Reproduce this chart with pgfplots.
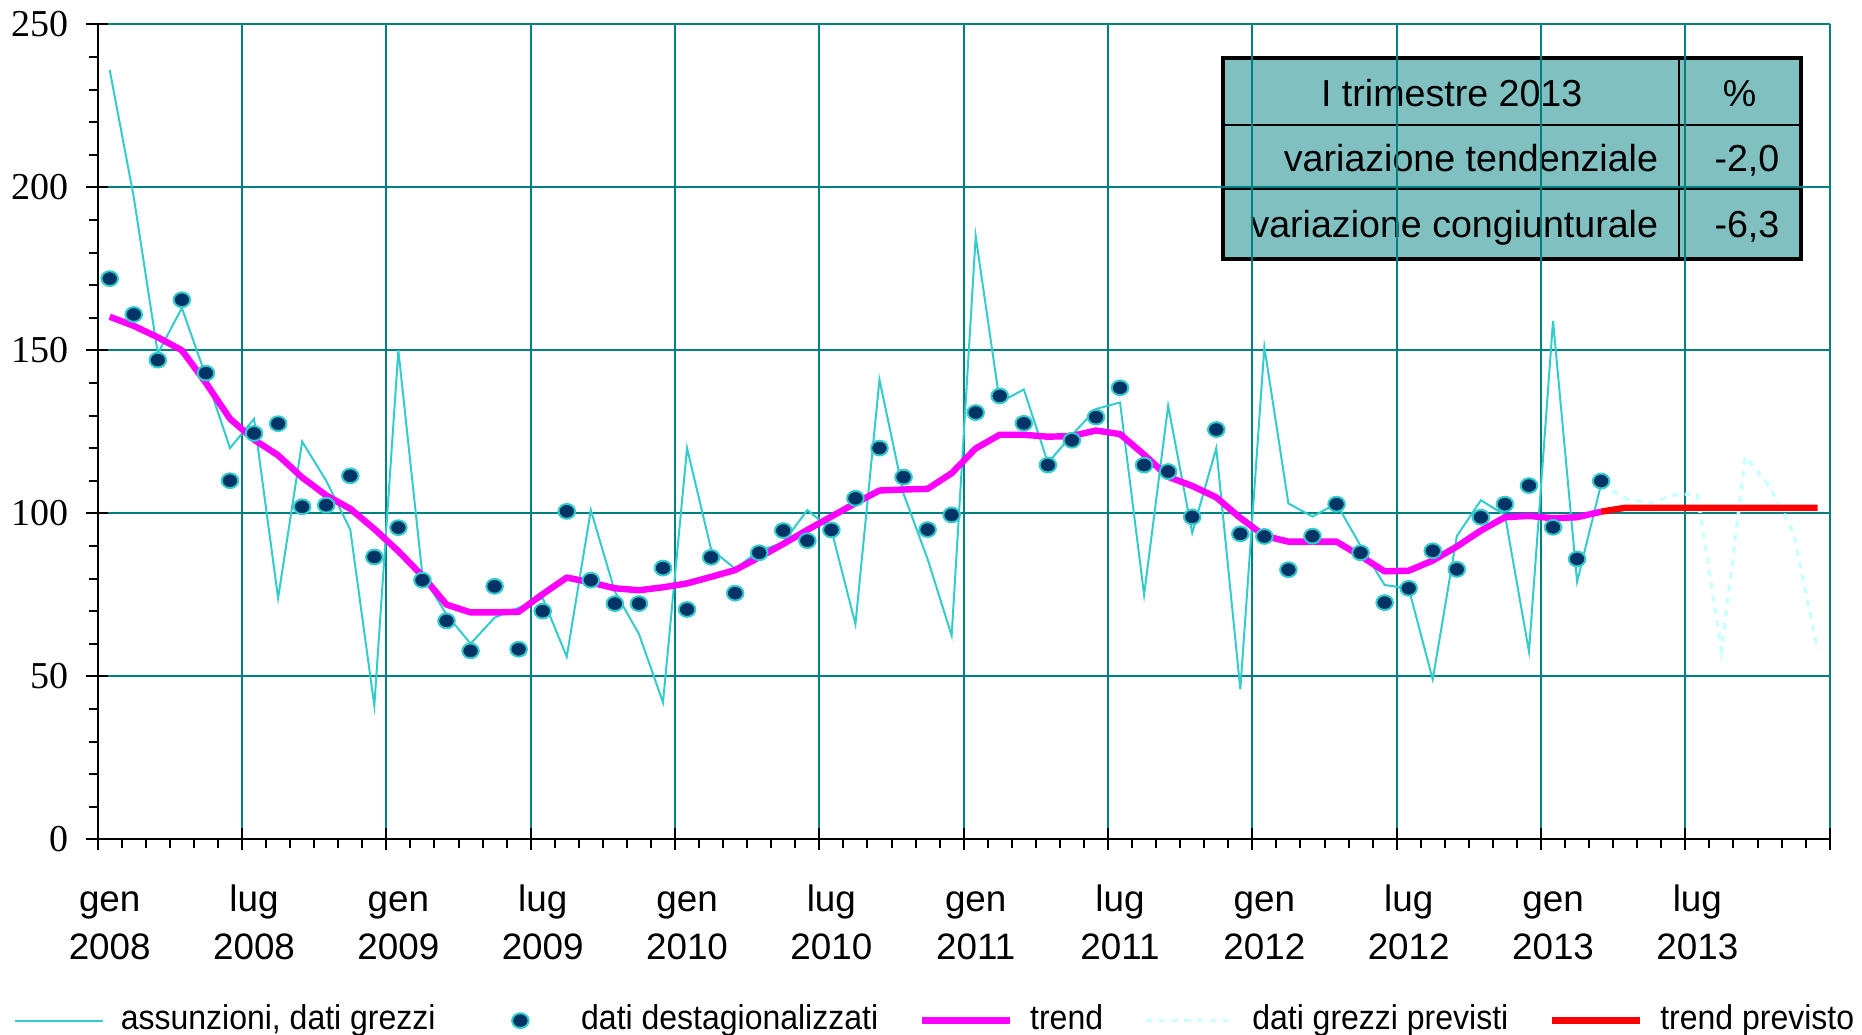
\documentclass[border=0pt]{standalone}
\usepackage{fontspec}
\usepackage{pgfplots}
\usepackage{pgfplotstable}
\pgfplotsset{compat=1.18}
\newfontfamily\arialf{Liberation Sans}
\newfontfamily\legf[FakeStretch=0.93]{Liberation Sans}
\newfontfamily\timesf{Liberation Serif}
\definecolor{gridteal}{RGB}{0,128,128}
\definecolor{rawc}{RGB}{51,204,204}
\definecolor{dotfill}{RGB}{0,51,102}
\definecolor{prevc}{RGB}{204,255,255}
\definecolor{tabfill}{RGB}{128,192,192}
\definecolor{trendc}{RGB}{255,0,255}
\definecolor{trendpc}{RGB}{255,0,0}
\pgfplotsset{
  linelegend/.style={legend image code/.code={\draw[##1] (0pt,0pt) -- (22pt,0pt);}},
  dotlegend/.style={legend image code/.code={\path[draw=none] (0pt,0pt) (22pt,0pt); \draw[mark repeat=2,mark phase=2,##1] plot coordinates {(0pt,0pt) (11pt,0pt) (22pt,0pt)};}},
}

\pgfplotstableread{
x y
0.5 236
1.5 197
2.5 149
3.5 163
4.5 142
5.5 120
6.5 129
7.5 74
8.5 122
9.5 110
10.5 95
11.5 41
12.5 150
13.5 81
14.5 69
15.5 60
16.5 68
17.5 71
18.5 74
19.5 56
20.5 101
21.5 76
22.5 63
23.5 42
24.5 120
25.5 89
26.5 83
27.5 88.5
28.5 91
29.5 101
30.5 95
31.5 66
32.5 141
33.5 106
34.5 86
35.5 62.5
36.5 185
37.5 134
38.5 138
39.5 115.5
40.5 124
41.5 132
42.5 134
43.5 75
44.5 133
45.5 94
46.5 120
47.5 46
48.5 151
49.5 103
50.5 99
51.5 103
52.5 90
53.5 78
54.5 77
55.5 49
56.5 93
57.5 104
58.5 99.5
59.5 57.6
60.5 159
61.5 79
62.5 109
}\rawdata

\pgfplotstableread{
x y
0.5 172
1.5 161
2.5 147
3.5 165.5
4.5 143
5.5 110
6.5 124.5
7.5 127.5
8.5 102
9.5 102.5
10.5 111.5
11.5 86.6
12.5 95.6
13.5 79.5
14.5 67
15.5 57.8
16.5 77.6
17.5 58.3
18.5 70
19.5 100.6
20.5 79.5
21.5 72.3
22.5 72.3
23.5 83.2
24.5 70.5
25.5 86.5
26.5 75.5
27.5 87.9
28.5 94.7
29.5 91.6
30.5 94.9
31.5 104.6
32.5 120
33.5 111.1
34.5 95
35.5 99.5
36.5 130.9
37.5 136
38.5 127.6
39.5 114.8
40.5 122.4
41.5 129.5
42.5 138.5
43.5 114.8
44.5 112.8
45.5 98.9
46.5 125.7
47.5 93.7
48.5 92.9
49.5 82.7
50.5 93
51.5 102.8
52.5 87.9
53.5 72.6
54.5 77
55.5 88.5
56.5 82.8
57.5 98.8
58.5 102.8
59.5 108.5
60.5 95.7
61.5 86
62.5 109.9
}\sadata

\pgfplotstableread{
x y
0.5 160.3
1.5 157.5
2.5 154
3.5 150
4.5 140
5.5 129
6.5 122.6
7.5 117.8
8.5 111
9.5 105.5
10.5 101.4
11.5 95.2
12.5 88.4
13.5 80.8
14.5 72
15.5 69.6
16.5 69.6
17.5 69.8
18.5 75.2
19.5 80.3
20.5 78.8
21.5 77
22.5 76.4
23.5 77.3
24.5 78.5
25.5 80.5
26.5 82.6
27.5 86.5
28.5 90.6
29.5 94.9
30.5 99
31.5 103.1
32.5 107
33.5 107.3
34.5 107.5
35.5 112.3
36.5 119.9
37.5 124.1
38.5 124.1
39.5 123.5
40.5 123.7
41.5 125.4
42.5 124.3
43.5 118
44.5 111.2
45.5 108.4
46.5 104.9
47.5 98.6
48.5 93.1
49.5 91.3
50.5 91.3
51.5 91.3
52.5 86.9
53.5 82.2
54.5 82.4
55.5 85.5
56.5 89.8
57.5 94.7
58.5 98.8
59.5 99.2
60.5 98.5
61.5 98.8
62.5 100.5
}\trenddata

\pgfplotstableread{
x y
62.5 109
63.5 104.6
64.5 103
65.5 105.6
66.5 106
67.5 58
68.5 117.4
69.5 108.2
70.5 94
71.5 58
}\prevdata

\pgfplotstableread{
x y
62.5 100.5
63.5 101.7
64.5 101.7
65.5 101.7
66.5 101.7
67.5 101.7
68.5 101.7
69.5 101.7
70.5 101.7
71.5 101.7
}\trendprevdata

\begin{document}
\begin{tikzpicture}
% summary table (drawn first so that the grid shows over it)
\fill[tabfill] (281.3pt,145.1pt) rectangle (425.8pt,195.3pt);
\draw[black, line width=0.5pt] (395.3pt,145.1pt) -- (395.3pt,195.3pt);
\draw[black, line width=0.5pt] (281.3pt,178.65pt) -- (425.8pt,178.65pt);
\draw[black, line width=0.5pt] (281.3pt,162.6pt) -- (425.8pt,162.6pt);
\draw[black, line width=1pt] (281.3pt,145.1pt) rectangle (425.8pt,195.3pt);
\begin{scope}[every node/.style={inner sep=0pt, font=\arialf\fontsize{9.4}{11}\selectfont}]
\node[anchor=base] at (338.5pt,183.3pt) {I trimestre 2013};
\node[anchor=base] at (410.5pt,183.3pt) {\%};
\node[anchor=base east] at (390.3pt,167.0pt) {variazione tendenziale};
\node[anchor=base east] at (420.6pt,167.0pt) {-2,0};
\node[anchor=base east] at (390.3pt,150.4pt) {variazione congiunturale};
\node[anchor=base east] at (420.6pt,150.4pt) {-6,3};
\end{scope}

\begin{axis}[
  scale only axis, width=433pt, height=203.75pt,
  xmin=0, xmax=72, ymin=0, ymax=250,
  axis lines*=left,
  axis line style={-, black, line width=0.5pt},
  xtick={0,6,...,72}, xticklabels={},
  minor x tick num=5,
  ytick={0,50,...,250},
  minor y tick num=4,
  tick align=outside,
  major tick length=5.5pt, minor tick length=2.25pt,
  tick style={black, line width=0.5pt},
  every major x tick/.append style={yshift=2.75pt},
  every major y tick/.append style={xshift=2.5pt},
  grid=major,
  major grid style={gridteal, line width=0.45pt},
  extra x ticks={0.5,6.5,12.5,18.5,24.5,30.5,36.5,42.5,48.5,54.5,60.5,66.5},
  extra x tick labels={\strut gen\\2008,\strut lug\\2008,\strut gen\\2009,\strut lug\\2009,\strut gen\\2010,\strut lug\\2010,\strut gen\\2011,\strut lug\\2011,\strut gen\\2012,\strut lug\\2012,\strut gen\\2013,\strut lug\\2013},
  extra x tick style={grid=none, major tick length=0pt},
  xticklabel style={font=\arialf\fontsize{9.2}{11.9}\selectfont, align=center, anchor=north, inner sep=0pt, yshift=-9.6pt},
  yticklabel style={font=\timesf\fontsize{9.5}{11}\selectfont, anchor=east, inner sep=0pt, xshift=-1.5pt},
  /pgf/number format/assume math mode=true,
  legend style={at={(axis description cs:-0.0483,-0.2225)}, anchor=west,
    draw=none, fill=none, inner sep=0pt, outer sep=0pt,
    font=\legf\fontsize{8.6}{10}\selectfont,
    nodes={inner sep=0pt, text height=6.3pt, text depth=1.8pt},
    /tikz/every even column/.append style={column sep=10.2pt},
    /tikz/every odd column/.append style={column sep=4.2pt}},
  legend columns=-1,
  legend cell align=left,
  linelegend,
]
\addplot[rawc, line width=0.5pt, mark=none] table {\rawdata};
\addlegendentry{assunzioni, dati grezzi}
\addplot[trendc, line width=1.6pt, mark=none, line join=round, forget plot] table {\trenddata};
\addplot[only marks, mark=*, mark size=1.85pt, mark options={fill=dotfill, draw=rawc, line width=0.5pt, xscale=1.12}, dotlegend] table {\sadata};
\addlegendentry{dati destagionalizzati}
\addlegendimage{trendc, line width=1.6pt, linelegend}
\addlegendentry{trend}
\addplot[prevc, line width=0.9pt, dash pattern=on 1.6pt off 1.6pt, mark=none, linelegend] table {\prevdata};
\addlegendentry{dati grezzi previsti}
\addplot[trendpc, line width=1.6pt, mark=none, linelegend] table {\trendprevdata};
\addlegendentry{trend previsto}
\end{axis}
\pgfresetboundingbox
\path[use as bounding box] (-24.42pt,-48.92pt) rectangle (441.08pt,209.83pt);
\end{tikzpicture}
\end{document}
